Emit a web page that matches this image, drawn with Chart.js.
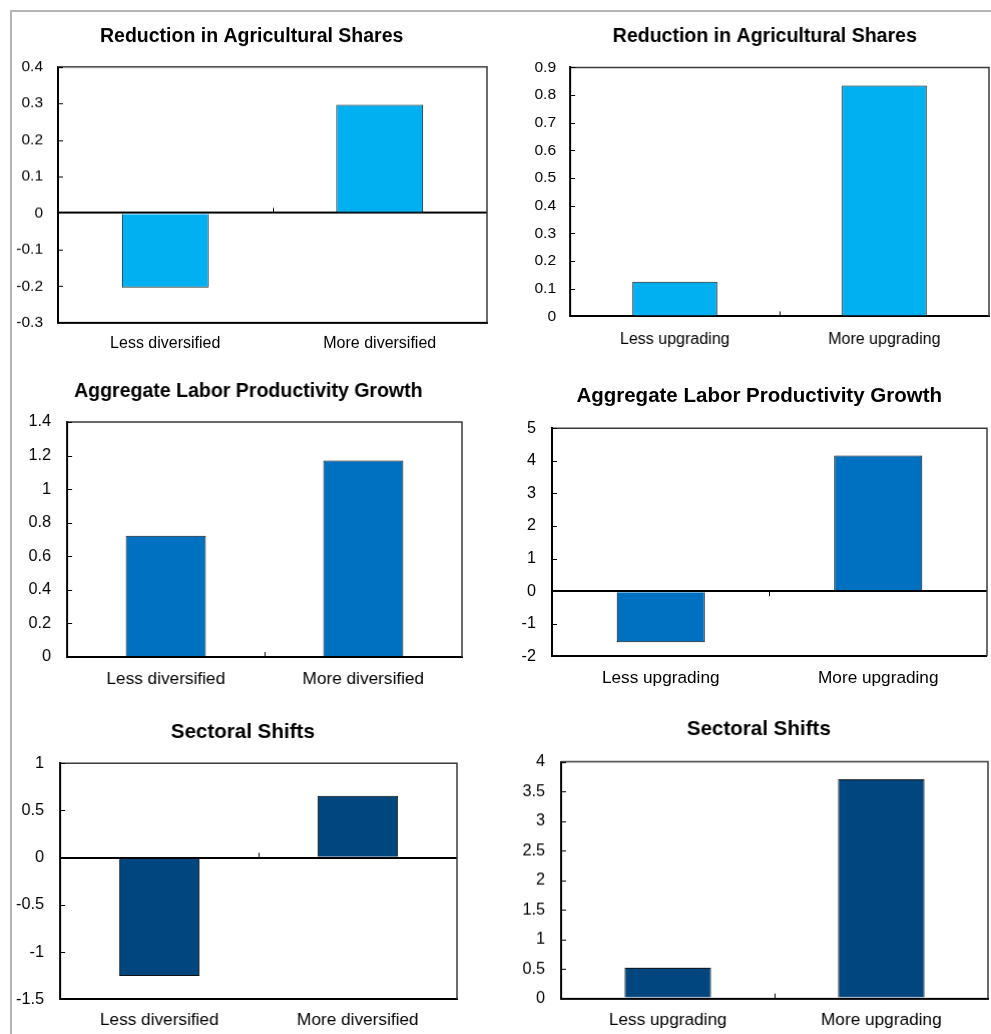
<!DOCTYPE html>
<html><head><meta charset="utf-8">
<script src="https://cdn.jsdelivr.net/npm/chart.js@4.4.0/dist/chart.umd.min.js"></script>
<style>
html,body{margin:0;padding:0;background:#fff;overflow:hidden;width:991px;height:1034px;}
.frame{position:absolute;left:10px;top:10px;width:1000px;height:1100px;border-left:2px solid #b4b4b4;border-top:2px solid #b4b4b4;}
.box{position:absolute;}
</style></head><body>
<div class="frame"></div>
<div class="box" id="b0"><canvas id="c0"></canvas></div>
<div class="box" id="b1"><canvas id="c1"></canvas></div>
<div class="box" id="b2"><canvas id="c2"></canvas></div>
<div class="box" id="b3"><canvas id="c3"></canvas></div>
<div class="box" id="b4"><canvas id="c4"></canvas></div>
<div class="box" id="b5"><canvas id="c5"></canvas></div>
<script>
// ---- data ----
const titles = ['Reduction in Agricultural Shares', 'Reduction in Agricultural Shares',
  'Aggregate Labor Productivity Growth', 'Aggregate Labor Productivity Growth',
  'Sectoral Shifts', 'Sectoral Shifts'];
const diversCategories = ['Less diversified', 'More diversified'];
const upgradeCategories = ['Less upgrading', 'More upgrading'];
const agriDiversified = [-0.204, 0.296];
const agriUpgrading = [0.125, 0.835];
const prodDiversified = [0.723, 1.171];
const prodUpgrading = [-1.566, 4.163];
const shiftDiversified = [-1.253, 0.656];
const shiftUpgrading = [0.52, 3.706];
const yMin = [-0.3, 0, 0, -2, -1.5, 0];
const yMax = [0.4, 0.9, 1.4, 5, 1, 4];
const yStep = [0.1, 0.1, 0.2, 1, 0.5, 0.5];

// ---- styles / layout ----
const FONT = "'Liberation Sans', Arial, sans-serif";
const lightBlue = '#00B0F0', midBlue = '#0070C0', darkBlue = '#01467F';
const geo = [
  {L:58,  T:67,  R:487, B:322, tc:37,    tx:251.7, yW:48, tf:19.5, kf:15.5, cf:16,   yGap:15, xPad:16.7, midTick:-1},
  {L:570, T:67,  R:988, B:316, tc:36.3,  tx:764.3, yW:40, tf:19.5, kf:15.5, cf:16,   yGap:14, xPad:18.7, midTick:-1},
  {L:67,  T:422, R:461, B:657, tc:391.7, tx:247.8, yW:50, tf:19.5, kf:16.2, cf:17.2, yGap:16, xPad:17,   midTick:-1},
  {L:552, T:428, R:987, B:656, tc:396,   tx:759.2, yW:36, tf:20.5, kf:16.2, cf:17.2, yGap:16, xPad:16.4, midTick:1},
  {L:60,  T:763, R:456, B:999, tc:732,   tx:242.3, yW:50, tf:20.5, kf:16.2, cf:17.2, yGap:16, xPad:15.7, midTick:-1},
  {L:561, T:762, R:987, B:998, tc:729.7, tx:758.3, yW:45, tf:20.5, kf:16.2, cf:17.2, yGap:16, xPad:16.4, midTick:-1}
];

const framePlugin = {
  id: 'frameTR',
  afterDatasetsDraw(chart, args, opts) {
    const a = chart.chartArea, ctx = chart.ctx;
    const ys = chart.scales.y, xs = chart.scales.x;
    ctx.save();
    // top & right frame
    ctx.strokeStyle = '#3a3a3a';
    ctx.lineWidth = 1.5;
    ctx.beginPath();
    ctx.moveTo(a.left, a.top);
    ctx.lineTo(a.right, a.top);
    ctx.lineTo(a.right, a.bottom);
    ctx.stroke();
    // inner tick marks on the value axis
    ctx.strokeStyle = '#000';
    ctx.lineWidth = 1;
    ctx.beginPath();
    ys.ticks.forEach(t => {
      const py = Math.round(ys.getPixelForValue(t.value)) + 0.5;
      ctx.moveTo(a.left, py);
      ctx.lineTo(a.left + 5, py);
    });
    // category separator tick on the zero line
    const mx = Math.round((xs.getPixelForValue(0) + xs.getPixelForValue(1)) / 2) + 0.5;
    const zy = ys.getPixelForValue(0);
    ctx.moveTo(mx, zy);
    ctx.lineTo(mx, zy + 5 * opts.dir);
    ctx.stroke();
    ctx.restore();
  }
};

function makeChart(i, cats, vals, color) {
  const g = geo[i];
  const lh = g.tf * 1.2;
  const top = g.tc - lh / 2;
  const rW = 2 * g.tx - g.L - g.R + g.yW;
  const left = g.L - g.yW;
  const w = g.yW + (g.R - g.L) + rW;
  const xH = 45;
  const h = (g.B - top) + xH;
  const box = document.getElementById('b' + i);
  box.style.left = left + 'px';
  box.style.top = top + 'px';
  box.style.width = w + 'px';
  box.style.height = h + 'px';
  new Chart(document.getElementById('c' + i), {
    type: 'bar',
    data: {
      labels: cats,
      datasets: [{
        data: vals, backgroundColor: color, borderColor: '#111', borderWidth: 1,
        barPercentage: 0.405, categoryPercentage: 1.0
      }]
    },
    options: {
      responsive: true, maintainAspectRatio: false, animation: false,
      layout: { padding: 0 },
      plugins: {
        legend: { display: false },
        tooltip: { enabled: false },
        frameTR: { dir: g.midTick },
        title: {
          display: true, text: titles[i], color: '#000',
          font: { family: FONT, size: g.tf, weight: 'bold', lineHeight: 1.2 },
          padding: { top: 0, bottom: g.T - top - lh }
        }
      },
      scales: {
        x: {
          grid: {
            display: true, drawOnChartArea: false, drawTicks: true, tickLength: -5, offset: true,
            tickColor: 'rgba(0,0,0,0)'
          },
          border: { display: true, color: '#000', width: 2 },
          ticks: { color: '#000', font: { family: FONT, size: g.cf }, padding: g.xPad, maxRotation: 0, autoSkip: false },
          afterFit: s => { s.height = xH; }
        },
        y: {
          min: yMin[i], max: yMax[i],
          ticks: {
            stepSize: yStep[i], color: '#000', font: { family: FONT, size: g.kf }, padding: g.yGap,
            callback: v => String(parseFloat(Number(v).toFixed(3)))
          },
          grid: {
            drawTicks: false,
            color: ctx => (ctx.tick && Math.abs(ctx.tick.value) < 1e-9) ? '#000' : 'rgba(0,0,0,0)',
            lineWidth: ctx => (ctx.tick && Math.abs(ctx.tick.value) < 1e-9) ? 2 : 1
          },
          border: { display: true, color: '#000', width: 2 },
          afterFit: s => { s.width = g.yW; }
        },
        ySpacer: {
          type: 'linear', axis: 'y', position: 'right', display: true,
          grid: { display: false }, border: { display: false }, ticks: { display: false },
          afterFit: s => { s.width = rW; }
        }
      }
    },
    plugins: [framePlugin]
  });
}

makeChart(0, diversCategories, agriDiversified, lightBlue);
makeChart(1, upgradeCategories, agriUpgrading, lightBlue);
makeChart(2, diversCategories, prodDiversified, midBlue);
makeChart(3, upgradeCategories, prodUpgrading, midBlue);
makeChart(4, diversCategories, shiftDiversified, darkBlue);
makeChart(5, upgradeCategories, shiftUpgrading, darkBlue);
</script>
</body></html>
